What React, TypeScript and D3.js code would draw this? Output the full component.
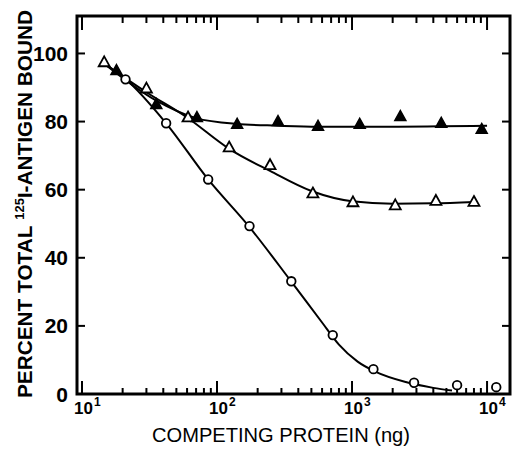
import React from "react";
import * as d3 from "d3";

// Data
const circleX = [21, 42, 86, 174, 355, 720, 1440, 2880, 6000, 11700];
const circleY = [92.4, 79.5, 63, 49.3, 33.1, 17.3, 7.3, 3.3, 2.6, 2.0];

const openTriX = [14.6, 30, 61, 123, 247, 513, 1016, 2090, 4180, 8000];
const openTriY = [97.4, 89.7, 81.2, 72.4, 67.2, 58.9, 56.3, 55.4, 56.7, 56.4];

const filledTriX = [18, 35.5, 71, 141, 283, 560, 1140, 2280, 4580, 9130];
const filledTriY = [95, 85, 81.2, 79.2, 80, 78.6, 79.2, 81.5, 79.5, 77.7];

// fitted curves
const circleCurveX = [14.6, 21, 42, 86, 174, 355, 600, 800, 1100, 1500, 2500, 4000, 5500];
const circleCurveY = [97, 92.5, 79.5, 63, 49, 33, 21, 14.5, 9.5, 6.5, 3.5, 1.8, 1.0];

const openCurveX = [14.6, 30, 60, 123, 247, 500, 1000, 2000, 4000, 8000];
const openCurveY = [97, 88.6, 81.2, 72, 65.5, 59.6, 56.6, 55.9, 56, 56.4];

const filledCurveX = [14.6, 35, 70, 140, 280, 560, 1100, 2200, 4500, 10000];
const filledCurveY = [97, 86.3, 81, 79.3, 78.8, 78.5, 78.5, 78.5, 78.6, 78.8];

const yTicks = [0, 20, 40, 60, 80, 100];
const xMajor = [10, 100, 1000, 10000];
const xMajorExp = ["1", "2", "3", "4"];

const W = 512;
const H = 449;

export default function App() {
  const x = d3
    .scaleLog()
    .domain([Math.pow(10, 0.963), Math.pow(10, 4.17)])
    .range([77, 510]);
  const y = d3.scaleLinear().domain([0, 111]).range([394, 16]);

  const line = d3
    .line<[number, number]>()
    .x((d) => x(d[0]))
    .y((d) => y(d[1]))
    .curve(d3.curveMonotoneX);

  const zip = (a: number[], b: number[]) =>
    a.map((v, i) => [v, b[i]] as [number, number]);

  const minor: number[] = [];
  for (let k = 1; k <= 3; k++) {
    for (let m = 2; m <= 9; m++) minor.push(m * Math.pow(10, k));
  }

  const [x0, x1] = x.range();
  const [yb, yt] = y.range();

  const tri = (cx: number, cy: number, s: number) => {
    const h = s * 0.9;
    return `M${cx},${cy - h * 0.6}L${cx + s / 2},${cy + h * 0.4}L${cx - s / 2},${cy + h * 0.4}Z`;
  };

  const font = "'Liberation Sans', Arial, sans-serif";

  return (
    <svg
      width={W}
      height={H}
      style={{ position: "absolute", left: 0, top: 0, background: "#fff" }}
    >
      <rect x={0} y={0} width={W} height={H} fill="#fff" />
      {/* curves */}
      <g fill="none" stroke="#000" strokeWidth={2}>
        <path d={line(zip(circleCurveX, circleCurveY)) || ""} />
        <path d={line(zip(openCurveX, openCurveY)) || ""} />
        <path d={line(zip(filledCurveX, filledCurveY)) || ""} />
      </g>
      {/* ticks */}
      <g stroke="#000" strokeWidth={2}>
        {minor.map((v) => (
          <g key={"m" + v}>
            <line x1={x(v)} x2={x(v)} y1={yb} y2={yb - 6} />
            <line x1={x(v)} x2={x(v)} y1={yt} y2={yt + 7} />
          </g>
        ))}
        {xMajor.map((v) => (
          <g key={"M" + v}>
            <line x1={x(v)} x2={x(v)} y1={yb} y2={yb - 13} />
            <line x1={x(v)} x2={x(v)} y1={yt} y2={yt + 14} />
          </g>
        ))}
        {yTicks.map((v) => (
          <g key={"y" + v}>
            <line x1={x0} x2={x0 + 8} y1={y(v)} y2={y(v)} />
            <line x1={x1} x2={x1 - 8} y1={y(v)} y2={y(v)} />
          </g>
        ))}
      </g>
      {/* frame */}
      <rect
        x={x0}
        y={yt}
        width={x1 - x0}
        height={yb - yt}
        fill="none"
        stroke="#000"
        strokeWidth={3}
      />
      {/* markers */}
      <g fill="#fff" stroke="#000" strokeWidth={1.8}>
        {circleX.map((v, i) => (
          <circle key={"c" + i} cx={x(v)} cy={y(circleY[i])} r={4.3} />
        ))}
        {openTriX.map((v, i) => (
          <path key={"o" + i} d={tri(x(v), y(openTriY[i]), 11)} />
        ))}
      </g>
      <g fill="#000" stroke="#000" strokeWidth={1.5}>
        {filledTriX.map((v, i) => (
          <path key={"f" + i} d={tri(x(v), y(filledTriY[i]), 11)} />
        ))}
      </g>
      {/* y tick labels */}
      <g fontFamily={font} fontWeight="bold" fontSize={21} textAnchor="end">
        {yTicks.map((v) => (
          <text key={"yl" + v} x={68} y={y(v) + 7.5}>
            {v}
          </text>
        ))}
      </g>
      {/* x tick labels */}
      <g fontFamily={font} fontWeight="bold">
        {xMajor.map((v, i) => (
          <text key={"xl" + v} x={x(v) - 8} y={414} fontSize={17}>
            10
            <tspan fontSize={12} dy={-8} dx={1}>
              {xMajorExp[i]}
            </tspan>
          </text>
        ))}
      </g>
      {/* axis titles */}
      <text
        x={281}
        y={442}
        textAnchor="middle"
        fontFamily={font}
        fontSize={20}
        textLength={258}
        lengthAdjust="spacingAndGlyphs"
      >
        COMPETING PROTEIN (ng)
      </text>
      <text
        transform="translate(32,204) rotate(-90)"
        textAnchor="middle"
        fontFamily={font}
        fontWeight="bold"
        fontSize={21}
        textLength={388}
        lengthAdjust="spacingAndGlyphs"
      >
        PERCENT TOTAL
        <tspan fontSize={13} dy={-8} dx={6}>
          125
        </tspan>
        <tspan dy={8}>I-ANTIGEN BOUND</tspan>
      </text>
    </svg>
  );
}
